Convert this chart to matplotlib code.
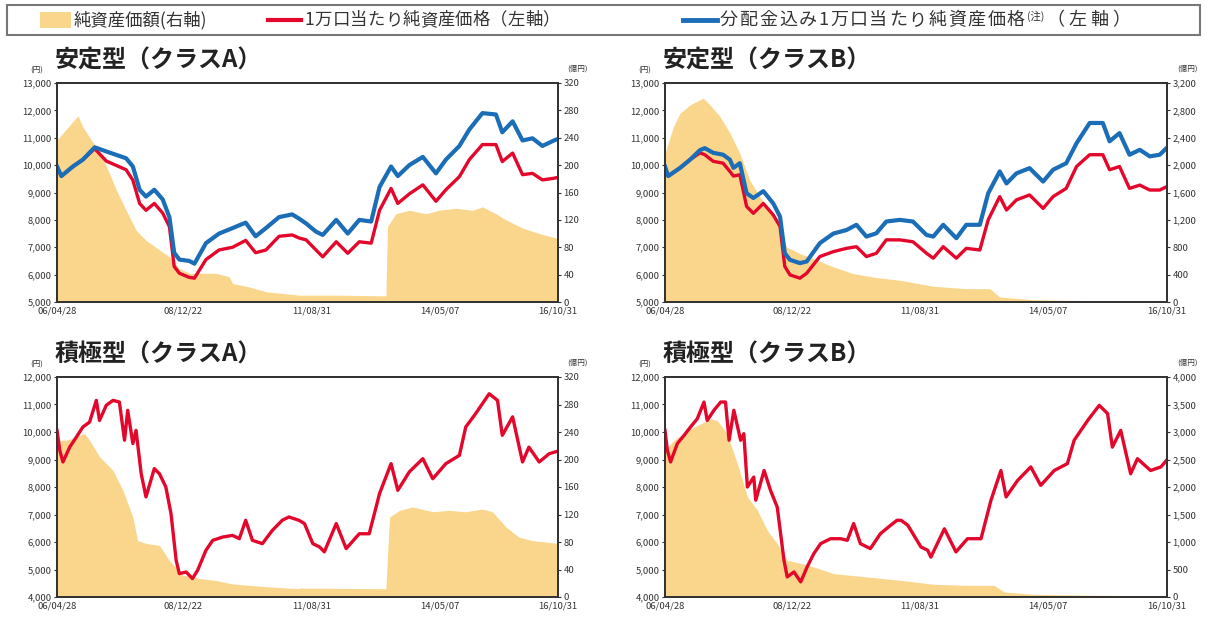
import numpy as np
import pandas as pd
import matplotlib
matplotlib.use("Agg")
import matplotlib.pyplot as plt
from matplotlib.patches import Rectangle
from matplotlib.lines import Line2D
from matplotlib.ticker import FuncFormatter

plt.rcParams['font.family'] = ['Noto Sans CJK JP', 'DejaVu Sans']

# ---------------- data (months since 2006-04-28) ----------------
START = "2006-04-28"
END = "2016-10-31"
x_tick_dates = ["2006-04-28", "2008-12-22", "2011-08-31", "2014-05-07", "2016-10-31"]
x_tick_labels = ["06/04/28", "08/12/22", "11/08/31", "14/05/07", "16/10/31"]

legend_labels = ["純資産価額(右軸)", "1万口当たり純資産価格（左軸）",
                 "分配金込み1万口当たり純資産価格", "(注)", "（左軸）"]
titles = ["安定型（クラスA）", "安定型（クラスB）", "積極型（クラスA）", "積極型（クラスB）"]

# 安定型（クラスA）
sa_m = [0, 1.1, 4.0, 6.5, 9.5, 12.4, 17.4, 19.1, 20.8, 22.4, 24.5, 26.6, 28.3, 29.5, 30.8, 33.3,
        34.6, 37.5, 40.8, 44.2, 47.5, 50.0, 52.6, 55.9, 59.2, 60.9, 62.7, 65.2, 66.9, 70.3, 73.2,
        76.1, 79.1, 81.2, 84.1, 85.8, 88.7, 92.1, 95.4, 97.9, 101.3, 103.8, 107.1, 110.5, 112.1,
        114.7, 117.2, 119.7, 122.2, 125.1, 126.0]
sa_blue = [9950, 9600, 9950, 10200, 10650, 10500, 10250, 9950, 9100, 8850, 9100, 8750, 8100, 6800,
           6550, 6500, 6400, 7150, 7500, 7700, 7900, 7400, 7700, 8100, 8200, 8050, 7870, 7570, 7450,
           8000, 7500, 8000, 7940, 9200, 9950, 9600, 10000, 10300, 9700, 10200, 10700, 11300, 11900,
           11850, 11200, 11600, 10900, 10980, 10700, 10900, 10950]
sa_red = [9950, 9600, 9950, 10200, 10600, 10150, 9830, 9450, 8600, 8350, 8600, 8250, 7750, 6300,
          6050, 5900, 5870, 6550, 6900, 7000, 7250, 6800, 6900, 7400, 7450, 7340, 7270, 6900, 6650,
          7200, 6780, 7200, 7150, 8350, 9150, 8600, 8950, 9280, 8680, 9100, 9580, 10200, 10750,
          10750, 10130, 10440, 9650, 9700, 9460, 9520, 9550]
sa_area_m = [0, 2.3, 3.6, 5.3, 6.5, 8.6, 10.7, 13.2, 14.9, 17.4, 19.9, 22.4, 25.8, 28.3, 30.8, 33.3,
             40.0, 43.3, 44.2, 48.4, 52.6, 60.9, 70, 82.8, 83.2, 85.3, 88.7, 92.9, 96.2, 100.4,
             104.6, 107.1, 110.5, 113.0, 117.2, 121.4, 126.0]
sa_area = [237, 252, 261, 272, 256, 237, 220, 188, 164, 134, 105, 90, 76, 66, 49, 42, 42, 37, 27, 22,
           15, 10, 10, 9, 110, 129, 134, 129, 134, 137, 134, 139, 129, 120, 108, 100, 93]

# 安定型（クラスB）
sb_m = [0, 0.8, 3.8, 6.3, 8.8, 10.0, 12.1, 14.6, 16.3, 17.2, 18.8, 20.5, 22.2, 24.7, 27.2, 28.9,
        30.1, 31.4, 33.9, 35.6, 38.9, 42.3, 45.6, 48.1, 50.6, 53.1, 55.6, 59.0, 62.3, 65.7, 67.4,
        69.9, 73.2, 75.7, 79.1, 81.2, 84.1, 85.8, 88.3, 91.6, 95.0, 97.5, 100.8, 103.4, 106.7,
        110.0, 111.7, 114.2, 116.7, 119.3, 121.8, 124.3, 126.0]
sb_blue = [9950, 9600, 9900, 10200, 10550, 10620, 10450, 10380, 10200, 9900, 10070, 8970, 8800,
           9050, 8600, 8120, 6780, 6540, 6420, 6480, 7150, 7500, 7630, 7820, 7390, 7510, 7940,
           8000, 7940, 7450, 7390, 7820, 7330, 7820, 7820, 8970, 9770, 9330, 9700, 9890, 9400,
           9830, 10070, 10800, 11540, 11540, 10870, 11170, 10380, 10560, 10320, 10380, 10620]
sb_red = [9950, 9600, 9900, 10200, 10450, 10380, 10140, 10070, 9770, 9600, 9650, 8490, 8240, 8600,
          8180, 7760, 6300, 5990, 5870, 6050, 6660, 6840, 6960, 7020, 6660, 6780, 7270, 7270, 7200,
          6780, 6600, 7020, 6600, 6960, 6900, 8000, 8850, 8360, 8730, 8910, 8420, 8850, 9150, 9950,
          10380, 10380, 9830, 9950, 9150, 9270, 9090, 9090, 9210]
sb_area_m = [0, 2.1, 3.8, 6.3, 8.8, 9.6, 11.3, 13.8, 16.3, 18.8, 21.3, 23.8, 26.4, 28.9, 30.5, 33.9,
             37.2, 42.3, 47.3, 53.1, 59, 67.4, 75.7, 81.6, 84.1, 92.5, 100.8, 126]
sb_area = [2170, 2560, 2760, 2880, 2955, 2980, 2880, 2710, 2470, 2170, 1780, 1540, 1340, 1100, 806,
           708, 635, 513, 415, 357, 318, 230, 195, 195, 73, 34, 24, 15]

# 積極型（クラスA）
aa_m = [0, 0.7, 1.5, 3.2, 4.9, 6.5, 8.2, 9.9, 10.7, 12.4, 14.1, 15.7, 17.0, 17.8, 19.1, 19.9, 21.2,
        22.4, 24.5, 25.8, 27.4, 28.7, 30.0, 30.8, 32.5, 34.1, 35.4, 37.5, 39.2, 41.7, 44.2, 45.9,
        47.5, 49.2, 51.7, 54.2, 56.7, 58.4, 60.9, 62.3, 64.4, 66.1, 67.3, 70.3, 72.8, 76.1, 78.6,
        81.2, 84.1, 85.8, 88.7, 92.1, 94.6, 97.9, 101.3, 102.9, 105.4, 108.8, 110.9, 112.1, 114.7,
        117.2, 118.8, 121.4, 123.9, 126.0]
aa_red = [10060, 9330, 8910, 9450, 9820, 10180, 10360, 11150, 10420, 10970, 11150, 11090, 9700,
          10790, 9580, 10060, 8480, 7640, 8670, 8480, 8000, 7030, 5330, 4850, 4910, 4670, 4970,
          5700, 6060, 6180, 6240, 6120, 6790, 6060, 5940, 6420, 6790, 6910, 6790, 6670, 5940, 5820,
          5640, 6670, 5760, 6300, 6300, 7760, 8850, 7880, 8550, 9030, 8300, 8850, 9150, 10180,
          10670, 11390, 11150, 9880, 10550, 8910, 9450, 8910, 9210, 9300]
aa_area_m = [0, 2.3, 4.9, 6.9, 8.2, 10.7, 14.1, 16.6, 19.1, 20.3, 22.4, 25.8, 28.3, 31.6, 35.8, 40,
             44.2, 48.4, 52.6, 60.9, 61, 82.8, 83.7, 86.2, 89.5, 94.6, 98.7, 102.9, 107.1, 109.6,
             113, 116.3, 119.7, 123, 126]
aa_area = [228, 228, 233, 238, 228, 204, 184, 155, 116, 82, 78, 75, 53, 32, 27, 24, 19, 17, 15, 12,
           13, 12, 116, 126, 131, 124, 126, 124, 128, 124, 102, 87, 82, 80, 78]

# 積極型（クラスB）
ab_m = [0, 0.6, 1.4, 3.1, 4.8, 6.4, 8.1, 9.8, 10.6, 12.3, 14.0, 15.2, 16.1, 17.3, 19.0, 19.8, 20.7,
        22.3, 22.8, 24.9, 26.5, 28.2, 29.9, 30.7, 32.4, 34.1, 35.7, 37.4, 39.1, 41.6, 44.1, 45.8,
        47.4, 49.1, 51.6, 54.1, 56.7, 58.3, 59.3, 61.0, 64.3, 66.0, 66.8, 70.2, 73.1, 76.0, 79.4,
        81.9, 84.4, 85.7, 88.6, 91.9, 94.4, 97.8, 101.1, 102.8, 106.2, 109.1, 111.2, 112.4, 114.5,
        117.0, 118.7, 122.0, 124.6, 126.0]
ab_red = [10060, 9330, 8910, 9580, 9880, 10180, 10480, 11090, 10420, 10790, 11090, 11090, 9700,
          10790, 9700, 9940, 8000, 8360, 7520, 8600, 7880, 7270, 5330, 4730, 4910, 4550, 5090, 5580,
          5940, 6120, 6120, 6060, 6670, 5940, 5760, 6300, 6610, 6790, 6790, 6610, 5820, 5700, 5450,
          6480, 5640, 6120, 6120, 7520, 8600, 7640, 8240, 8730, 8060, 8600, 8850, 9700, 10420,
          10970, 10670, 9450, 10060, 8480, 9030, 8600, 8730, 8970]
ab_area_m = [0, 2.3, 5.6, 9.0, 11.5, 13.1, 15.6, 18.2, 20.7, 23.2, 25.7, 28.2, 30.7, 34.1, 37.4,
             42.4, 50.8, 59.2, 67.7, 76, 82.7, 85.2, 92.8, 109.5, 126]
ab_area = [2670, 2850, 3030, 3150, 3240, 3210, 2970, 2420, 1820, 1580, 1210, 970, 670, 610, 545,
           425, 364, 303, 230, 212, 212, 91, 48, 30, 24]

# ---------------- styling ----------------
AREA = '#f9d68c'
RED = '#e3072c'
BLUE = '#1a6db6'
SPINE = '#333333'
TXT = '#333333'

W, H = 1207, 624
fig = plt.figure(figsize=(W / 100, H / 100), dpi=100)
fig.patch.set_facecolor('white')

def fx(px):
    return px / W

def fy(py):
    return 1 - py / H

start = pd.Timestamp(START)
def to_dates(months):
    return start + pd.to_timedelta(np.asarray(months) * 30.4375, unit='D')

tick_dates = pd.to_datetime(x_tick_dates)

def panel(rect, title, lm, red, blue, am, area, lmin, lmax, rmax, rstep):
    x0, y0, x1, y1 = rect
    ax = fig.add_axes([fx(x0), fy(y1), fx(x1 - x0), (y1 - y0) / H])
    ax2 = ax.twinx()
    ax2.fill_between(to_dates(am), area, 0, color=AREA, lw=0)
    ax2.set_ylim(0, rmax)
    ax.set_zorder(ax2.get_zorder() + 1)
    ax.patch.set_visible(False)
    d = to_dates(lm)
    ax.plot(d, red, color=RED, lw=2.4, solid_joinstyle='round')
    if blue is not None:
        ax.plot(d, blue, color=BLUE, lw=3.0, solid_joinstyle='round')
    ax.set_ylim(lmin, lmax)
    ax.set_yticks(np.arange(lmin, lmax + 1, 1000))
    ax.yaxis.set_major_formatter(FuncFormatter(lambda v, p: f"{v:,.0f}"))
    ax2.set_yticks(np.arange(0, rmax + 1, rstep))
    ax2.yaxis.set_major_formatter(FuncFormatter(lambda v, p: f"{v:,.0f}"))
    ax.set_xlim(start, pd.Timestamp(END))
    ax.set_xticks(tick_dates)
    ax.set_xticklabels(x_tick_labels)
    for a in (ax, ax2):
        for s in a.spines.values():
            s.set_color(SPINE)
            s.set_linewidth(1.3)
        a.tick_params(labelsize=6.8, colors=TXT, length=2.5, width=0.8, pad=1.5)
    ax.tick_params(axis='x', length=0, pad=3)
    fig.text(fx(x0 - 2), fy(y0 - 22), title, fontsize=17.3, fontweight='bold',
             color='#222222', ha='left', va='center')
    fig.text(fx(x0 - 20), fy(y0 - 12), "(円)", fontsize=5.5, color=TXT, ha='center', va='center')
    fig.text(fx(x1 + 20), fy(y0 - 14), "(億円)", fontsize=5.5, color=TXT, ha='center', va='center')

panel((57, 83, 558, 302), titles[0], sa_m, sa_red, sa_blue, sa_area_m, sa_area, 5000, 13000, 320, 40)
panel((665, 83, 1167, 302), titles[1], sb_m, sb_red, sb_blue, sb_area_m, sb_area, 5000, 13000, 3200, 400)
panel((57, 377, 558, 597), titles[2], aa_m, aa_red, None, aa_area_m, aa_area, 4000, 12000, 320, 40)
panel((665, 377, 1167, 597), titles[3], ab_m, ab_red, None, ab_area_m, ab_area, 4000, 12000, 4000, 500)

# ---------------- legend ----------------
renderer = fig.canvas.get_renderer()

def spaced_text(x0, x1, y, s, size):
    arts, widths = [], []
    for ch in s:
        t = fig.text(0, fy(y), ch, fontsize=size, color=TXT, va='center', ha='left')
        arts.append(t)
        widths.append(t.get_window_extent(renderer=renderer).width)
    gap = (x1 - x0 - sum(widths)) / max(len(s) - 1, 1)
    x = x0
    for t, w in zip(arts, widths):
        t.set_x(fx(x))
        x += w + gap

fig.patches.append(Rectangle((fx(7), fy(35)), fx(1193), 30 / H, transform=fig.transFigure,
                             fill=False, edgecolor='#777777', lw=1.5))
fig.patches.append(Rectangle((fx(40), fy(28)), fx(31), 16 / H, transform=fig.transFigure,
                             facecolor=AREA, edgecolor='none'))
fig.text(fx(74), fy(20), legend_labels[0], fontsize=12.5, color=TXT, va='center', ha='left')
fig.lines.append(Line2D([fx(268), fx(301)], [fy(20), fy(20)], transform=fig.transFigure,
                        color=RED, lw=3))
spaced_text(305, 560, 20, legend_labels[1], 12.5)
fig.lines.append(Line2D([fx(683), fx(717)], [fy(20), fy(20)], transform=fig.transFigure,
                        color=BLUE, lw=3.5))
spaced_text(720, 1025, 20, legend_labels[2], 13)
fig.text(fx(1027), fy(16), legend_labels[3], fontsize=7.5, color=TXT, va='center', ha='left')
spaced_text(1046, 1130, 20, legend_labels[4], 13)

fig.savefig("out.png", dpi=100, facecolor='white')
